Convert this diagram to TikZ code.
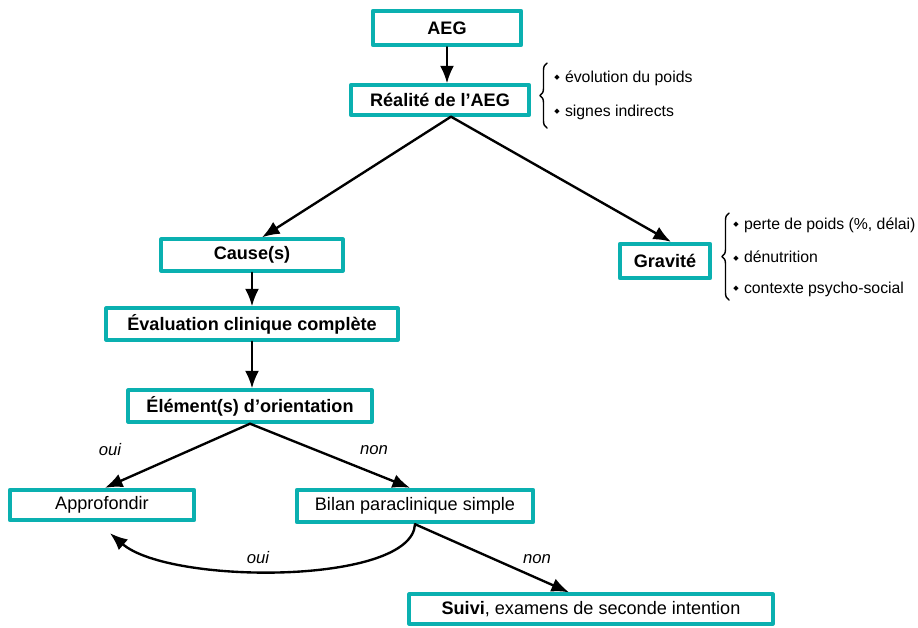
\documentclass[tikz,border=0pt]{standalone}
\usepackage{fontspec}
\setmainfont{Liberation Sans}
\newfontfamily\symbfont{DejaVu Sans}
\usetikzlibrary{arrows.meta,decorations.pathreplacing}

\definecolor{aegteal}{RGB}{10,176,176}
\newcommand{\puce}{{\symbfont\fontsize{4}{4}\selectfont\raisebox{1.3pt}{◆}}\hspace{3pt}}

\begin{document}
\begin{tikzpicture}[x=0.02cm,y=-0.02cm,line cap=round,line join=round,
    etape/.style={draw=aegteal,line width=2.2pt,fill=white,inner sep=2pt,
        font=\fontsize{10.3}{12}\selectfont\bfseries},
    etapesimple/.style={etape,font=\fontsize{10.3}{12}\selectfont},
    fleche/.style={-{Latex[length=10pt,width=8pt]},line width=1.35pt},
    choix/.style={font=\fontsize{9.5}{11}\selectfont\itshape},
    detail/.style={anchor=west,inner sep=0pt,font=\fontsize{9}{11}\selectfont},
    accolade/.style={decorate,decoration={brace,amplitude=4pt},line width=0.8pt}]
        \useasboundingbox (0,0) rectangle (918,627);

        % etapes
        \node[etape,minimum width=2.97cm,minimum height=0.69cm] (aeg) at (447,28) {AEG};
        \node[etape,minimum width=3.57cm,minimum height=0.59cm] (realite) at (440,100) {Réalité de l’AEG};
        \node[etape,minimum width=3.63cm,minimum height=0.63cm] (cause) at (252,255) {Cause(s)};
        \node[etape,minimum width=1.81cm,minimum height=0.69cm] (gravite) at (665,261) {Gravité};
        \node[etape,minimum width=5.83cm,minimum height=0.63cm] (evaluation) at (252,324) {Évaluation clinique complète};
        \node[etape,minimum width=4.87cm,minimum height=0.63cm] (element) at (250,406) {Élément(s) d’orientation};
        \node[etapesimple,minimum width=3.69cm,minimum height=0.61cm] (approfondir) at (102,505) {Approfondir};
        \node[etapesimple,minimum width=4.73cm,minimum height=0.65cm] (bilan) at (415,506) {Bilan paraclinique simple};
        \node[etapesimple,minimum width=7.27cm,minimum height=0.59cm] (suivi) at (591,609)
            {\textbf{Suivi}, examens de seconde intention};

        % fleches
        \draw[fleche] (aeg.south) -- (aeg.south |- realite.north);
        \draw[fleche] ([xshift=0.22cm]realite.south) -- ([xshift=0.2cm]cause.north);
        \draw[fleche] ([xshift=0.22cm]realite.south) -- ([xshift=0.12cm]gravite.north);
        \draw[fleche] (cause.south) -- (evaluation.north);
        \draw[fleche] (evaluation.south) -- (evaluation.south |- element.north);
        \draw[fleche] (element.south) -- ([xshift=0.06cm]approfondir.north);
        \draw[fleche] (element.south) -- ([xshift=-0.1cm]bilan.north);
        \draw[fleche] (bilan.south) -- ([xshift=-0.44cm]suivi.north);
        \draw[fleche] (bilan.south) .. controls (412,585) and (170,585)
            .. ([xshift=0.16cm,yshift=-0.22cm]approfondir.south);

        \node[choix] (oui1) at (110,450) {oui};
        \node[choix] (non1) at (374,450) {non};
        \node[choix] (oui2) at (258,558) {oui};
        \node[choix] (non2) at (537,559) {non};

        % accolades
        \draw[accolade] (547,128) -- (547,63);
        \node[detail] (poids) at (554,78) {\puce évolution du poids};
        \node[detail] (signes) at (554,112) {\puce signes indirects};

        \draw[accolade] (729,300) -- (729,213);
        \foreach \texte [count=\i] in {perte de poids (\%{,} délai),dénutrition,contexte psycho-social} {
            \node[detail] (grav\i) at (733,193+32*\i) {\puce\texte};
        }
    \end{tikzpicture}
\end{document}
